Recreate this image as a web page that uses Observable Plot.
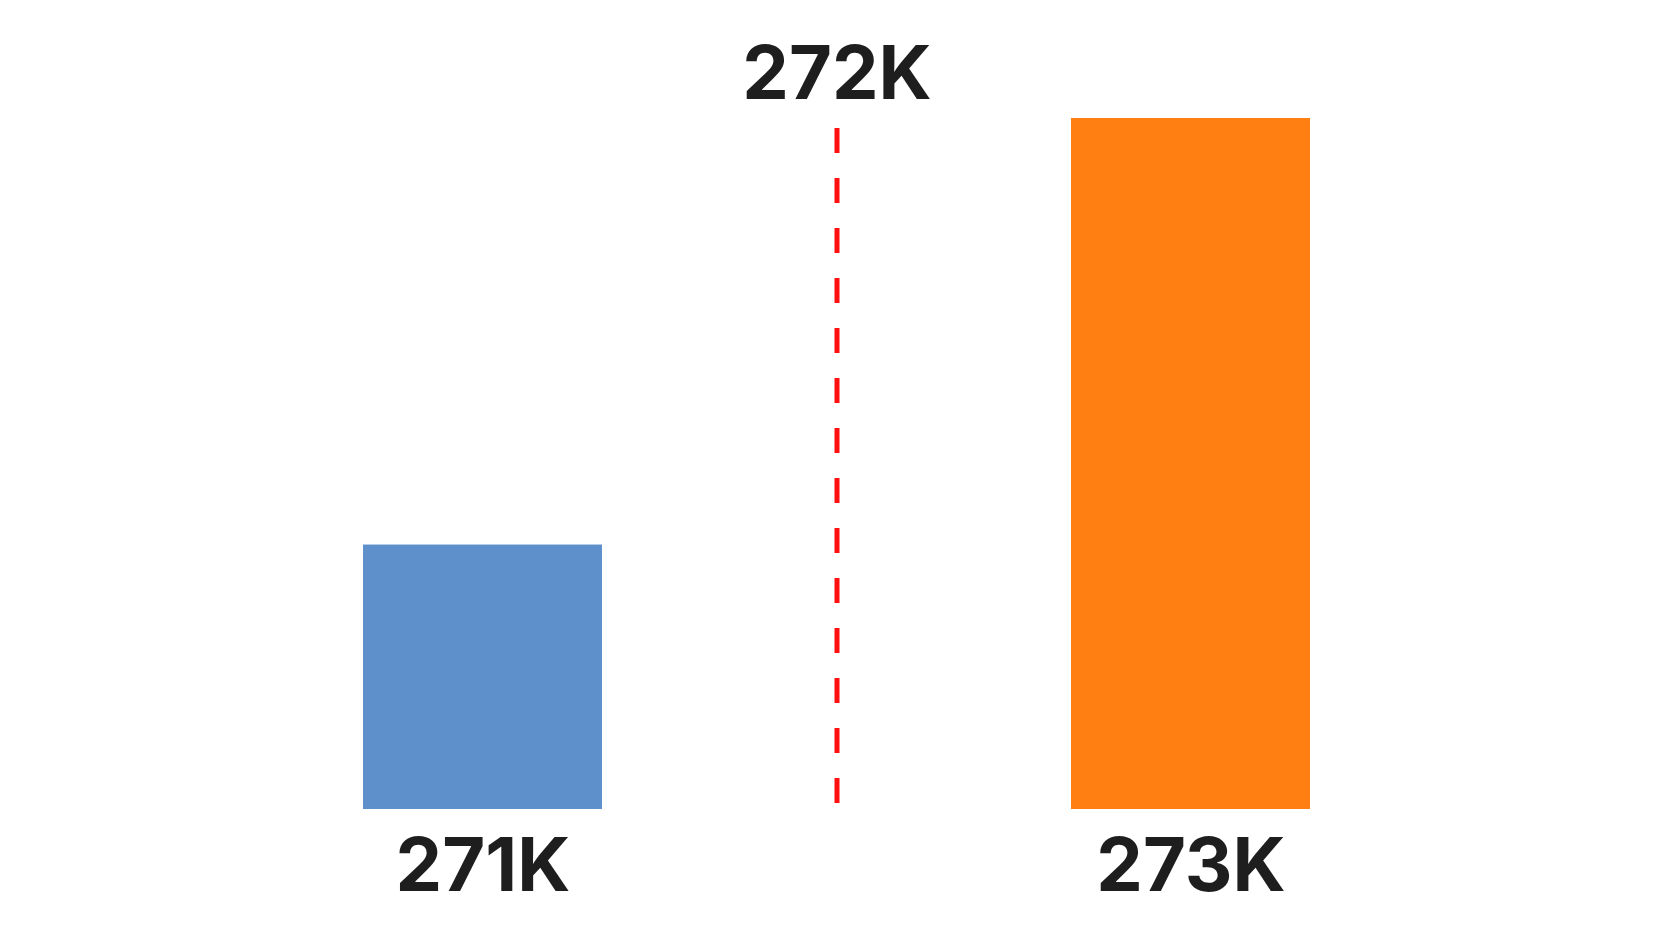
<!DOCTYPE html>
<html>
<head>
<meta charset="utf-8">
<script src="https://cdn.jsdelivr.net/npm/d3@7"></script>
<script src="https://cdn.jsdelivr.net/npm/@observablehq/plot@0.6"></script>
<style>
  html, body { margin: 0; padding: 0; background: #ffffff; }
  #chart { width: 1672px; height: 941px; }
</style>
</head>
<body>
<div id="chart"></div>
<script>
// ---- data ----
const categories = ["Group A", "Threshold", "Group B"];
const barCategories = ["Group A", "Group B"];
const barValues = [271, 273];
const barLabels = ["271K", "273K"];
const barColors = ["#5e91cc", "#ff7f13"];
const refCategory = "Threshold";
const refValue = 272;
const refLabel = "272K";
const baselineValue = 269.76;

const bars = barCategories.map((c, i) => ({
  category: c, value: barValues[i], label: barLabels[i], color: barColors[i]
}));
const ref = [{category: refCategory, value: refValue, label: refLabel}];

const textStyle = {fontFamily: "Inter, 'Liberation Sans', sans-serif", fontWeight: 700, fontSize: 74, fill: "#1e1e1e"};

const chart = Plot.plot({
  width: 1672,
  height: 941,
  marginTop: 118,
  marginBottom: 132,
  marginLeft: 247,
  marginRight: 247,
  style: {background: "#ffffff"},
  x: {type: "band", domain: categories, paddingInner: 0.325, paddingOuter: 0.325, axis: null},
  y: {domain: [baselineValue, 273], axis: null},
  marks: [
    Plot.barY(bars, {x: "category", y1: baselineValue, y2: "value", fill: "color"}),
    Plot.ruleX(ref, {x: "category", stroke: "#ff1010", strokeWidth: 5, strokeDasharray: "25 25", insetTop: 10, insetBottom: 2}),
    Plot.text(bars, {x: "category", y: baselineValue, text: "label", lineAnchor: "top", dy: 29, ...textStyle}),
    Plot.text(ref, {x: "category", frameAnchor: "top", text: "label", lineAnchor: "bottom", dy: -20, ...textStyle})
  ]
});
document.getElementById("chart").appendChild(chart);
</script>
</body>
</html>
